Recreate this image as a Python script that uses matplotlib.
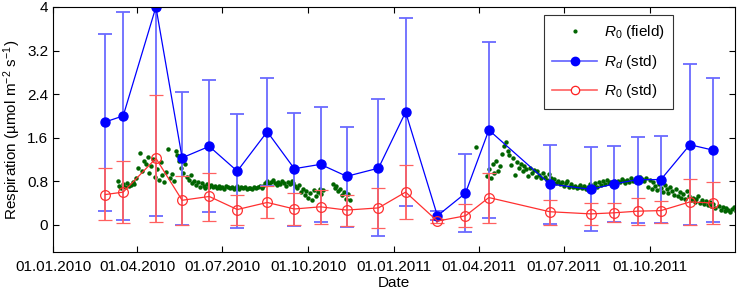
import numpy as np
import pandas as pd
import matplotlib
matplotlib.use("Agg")
import matplotlib.pyplot as plt
import matplotlib.dates as mdates
from matplotlib.lines import Line2D
from matplotlib.ticker import FixedLocator, FixedFormatter

plt.rcParams['font.family'] = ['Liberation Sans', 'DejaVu Sans']
plt.rcParams['mathtext.fontset'] = 'custom'
plt.rcParams['mathtext.rm'] = 'Liberation Sans'
plt.rcParams['mathtext.it'] = 'Liberation Sans:italic'

# daten der kammermessungen
dates = ['2010-02-26', '2010-03-17', '2010-04-21', '2010-05-19', '2010-06-17',
         '2010-07-17', '2010-08-18', '2010-09-16', '2010-10-14', '2010-11-11',
         '2010-12-15', '2011-01-13', '2011-02-16', '2011-03-18', '2011-04-12',
         '2011-06-16', '2011-07-30', '2011-08-24', '2011-09-18', '2011-10-13',
         '2011-11-13', '2011-12-08']

rd = [1.89, 2.00, 4.00, 1.23, 1.44, 0.985, 1.71, 1.03, 1.11, 0.89, 1.04,
      2.07, 0.165, 0.58, 1.74, 0.75, 0.65, 0.75, 0.83, 0.83, 1.47, 1.37]
rd_hi = [3.51, 3.91, 5.80, 2.43, 2.65, 2.04, 2.70, 2.06, 2.16, 1.80, 2.31,
         3.79, 0.26, 1.30, 3.36, 1.46, 1.42, 1.45, 1.61, 1.63, 2.95, 2.70]
rd_lo = [0.26, 0.09, 0.165, 0.005, 0.24, -0.06, 0.72, -0.02, 0.06, -0.04, -0.21,
         0.34, 0.09, -0.13, 0.116, 0.02, -0.11, 0.055, 0.04, 0.03, 0.0, 0.06]

r0 = [0.556, 0.60, 1.22, 0.45, 0.52, 0.28, 0.41, 0.29, 0.33, 0.27, 0.31,
      0.60, 0.068, 0.165, 0.50, 0.24, 0.20, 0.22, 0.25, 0.26, 0.42, 0.40]
r0_hi = [1.04, 1.18, 2.39, 0.90, 0.96, 0.556, 0.72, 0.59, 0.64, 0.54, 0.67,
         1.10, 0.10, 0.38, 0.96, 0.46, 0.40, 0.40, 0.50, 0.43, 0.84, 0.78]
r0_lo = [0.086, 0.03, 0.05, 0.0, 0.073, 0.0, 0.12, -0.01, 0.02, -0.02, -0.06,
         0.11, 0.04, -0.04, 0.04, 0.005, -0.005, 0.055, 0.0, 0.04, 0.0, 0.01]

# feldwerte R0, alle 2 tage
field_start_2010 = '2010-03-11'
field_2010 = [0.80, 0.72, 0.68, 0.74, 0.70, 0.76, 0.71, 0.73, 0.78, 0.75, 0.86,
              1.05, 1.32, 0.98, 1.18, 1.12, 1.25, 0.95, 1.08, 1.20, 0.88,
              1.02, 0.82, 1.15, 0.92, 0.78, 0.97, 1.39, 0.86, 0.93, 0.80,
              1.36, 1.28, 1.18, 1.05, 0.95, 1.12, 0.88, 0.82, 0.92, 0.76,
              0.80, 0.73, 0.78, 0.70, 0.76, 0.72, 0.68, 0.74, 0.70, 0.73,
              0.69, 0.72, 0.67, 0.71, 0.68, 0.70, 0.66, 0.72, 0.69, 0.67,
              0.70, 0.66, 0.68, 0.71, 0.65, 0.69, 0.67, 0.70, 0.66, 0.68,
              0.68, 0.66, 0.70, 0.67, 0.69, 0.71, 0.68, 0.72, 0.76, 0.80,
              0.74, 0.78, 0.82, 0.77, 0.73, 0.79, 0.75, 0.80, 0.76, 0.72,
              0.78, 0.74, 0.80, 0.76, 0.71, 0.68, 0.73, 0.60, 0.66, 0.55,
              0.62, 0.50, 0.58, 0.46, 0.64, 0.53, 0.60, 0.66, 0.56, 0.63,
              np.nan, np.nan, np.nan, np.nan, 0.75, 0.68, 0.72, 0.62, 0.66, 0.55,
              0.60, 0.48, 0.57, 0.45]
field_start_2011 = '2011-03-29'
field_2011 = [1.42, np.nan, np.nan, np.nan, np.nan, np.nan,
              0.90, 1.02, 0.85, 1.12, 0.95, 1.18, 0.98, 1.08, 1.30, 1.45,
              1.52, 1.35, 1.28, 1.10, 1.22, 0.92, 1.15, 1.05, 1.12, 0.98,
              1.08, 1.02, 0.90, 1.05, 0.95, 1.00, 0.88, 0.98, 0.92, 0.85,
              0.95, 0.88, 0.82, 0.93, 0.86, 0.80, 0.84, 0.76, 0.80, 0.74,
              0.78, 0.72, 0.76, 0.80, 0.70, 0.74, 0.69, 0.72, 0.67, 0.70,
              0.73, 0.68, 0.71, 0.66, 0.70, 0.74, 0.69, 0.72, 0.76, 0.70,
              0.78, 0.73, 0.80, 0.75, 0.82, 0.77, 0.79, 0.74, 0.80, 0.76,
              0.81, 0.78, 0.84, 0.80, 0.77, 0.82, 0.79, 0.85, 0.80, 0.83,
              0.86, 0.82, 0.88, 0.84, 0.80, 0.86, 0.70, 0.82, 0.66, 0.78,
              0.72, 0.64, 0.75, 0.68, 0.60, 0.73, 0.66, 0.58, 0.70, 0.62,
              0.55, 0.66, 0.52, 0.60, 0.50, 0.57, 0.48, 0.62, 0.53, 0.45,
              0.50, 0.42, 0.47, 0.52, 0.40, 0.45, 0.38, 0.44, 0.36, 0.41,
              0.34, 0.38, 0.31, np.nan, 0.35, 0.28, 0.32, 0.26, 0.30, 0.27,
              0.24, 0.29, 0.33, 0.26, 0.30, 0.25, 0.28]

x_ticks = ['2010-01-01', '2010-04-01', '2010-07-01', '2010-10-01',
           '2011-01-01', '2011-04-01', '2011-07-01', '2011-10-01']
y_ticks = [0, 0.8, 1.6, 2.4, 3.2, 4]
y_labels = ['0', '0.8', '1.6', '2.4', '3.2', '4']

d = pd.to_datetime(dates)
f1 = pd.date_range(field_start_2010, periods=len(field_2010), freq='2D')
f2 = pd.date_range(field_start_2011, periods=len(field_2011), freq='2D')
field_d = f1.append(f2)
field_v = np.array(field_2010 + field_2011)

rd = np.array(rd); r0 = np.array(r0)
rd_err = [rd - np.array(rd_lo), np.array(rd_hi) - rd]
r0_err = [r0 - np.array(r0_lo), np.array(r0_hi) - r0]

fig = plt.figure(figsize=(7.37, 2.91), dpi=100)
ax = fig.add_axes([0.072, 0.134, 0.925, 0.842])

ax.plot(field_d, field_v, ls='none', marker='o', ms=2.2, color='#006400')
ax.errorbar(d, rd, yerr=rd_err, color='#0000ff', lw=0.9, marker='o', ms=6.5,
            mfc='#0000ff', mec='#0000ff', ecolor='#6a6aff', elinewidth=1.3,
            capsize=5, capthick=1.3)
ax.errorbar(d, r0, yerr=r0_err, color='#ff3030', lw=0.9, marker='o', ms=7,
            mfc='none', mec='#ff3030', mew=0.9, ecolor='#ff6060', elinewidth=1.3,
            capsize=5, capthick=1.3)

ax.set_xlim(pd.Timestamp('2010-01-01'), pd.Timestamp('2011-12-31'))
ax.set_ylim(-0.5, 4)
ax.xaxis.set_major_locator(FixedLocator(mdates.date2num(pd.to_datetime(x_ticks))))
ax.xaxis.set_major_formatter(mdates.DateFormatter('%d.%m.%Y'))
ax.yaxis.set_major_locator(FixedLocator(y_ticks))
ax.yaxis.set_major_formatter(FixedFormatter(y_labels))
ax.tick_params(direction='in', top=True, right=True, length=4, labelsize=11,
               width=0.8)
ax.tick_params(axis='x', pad=6)
for s in ax.spines.values():
    s.set_linewidth(0.8)

ax.set_xlabel('Date', fontsize=11, labelpad=1)
ax.set_ylabel('Respiration (µmol m$^{-2}$ s$^{-1}$)', fontsize=11, labelpad=3)

# legende ohne fehlerbalken
handles = [
    Line2D([], [], ls='none', marker='o', ms=2, color='#006400'),
    Line2D([], [], color='#6060ff', lw=1.2, marker='o', ms=6,
           mfc='#0000ff', mec='#0000ff'),
    Line2D([], [], color='#ff6060', lw=1.2, marker='o', ms=6,
           mfc='white', mec='#ff2020', mew=0.9),
]
labels = ['$R_0$ (field)', '$R_d$ (std)', '$R_0$ (std)']
leg = ax.legend(handles, labels, loc='upper right', bbox_to_anchor=(0.909, 0.967),
                borderaxespad=0, fontsize=11, fancybox=False, edgecolor='#333333',
                framealpha=1, handlelength=2.9, handletextpad=0.45,
                borderpad=0.55, labelspacing=0.75)
leg.get_frame().set_linewidth(0.8)

fig.savefig('out.png', dpi=100)
